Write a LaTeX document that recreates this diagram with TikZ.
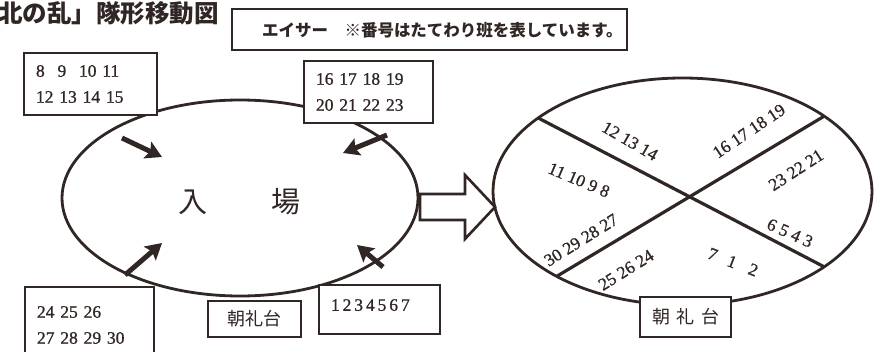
\documentclass[tikz,border=0pt]{standalone}
\usepackage{fontspec}
\usepackage{tikz}
\usetikzlibrary{positioning,arrows.meta,shapes}
\setmainfont{Liberation Serif}
\newfontfamily\numfont{Liberation Serif}[FakeBold=0.9]
\newfontfamily\jpfont{Noto Sans CJK JP}
\definecolor{ink}{RGB}{48,38,36}

\begin{document}
\begin{tikzpicture}[x=1pt, y=-1pt,
        numbox/.style={draw=ink, fill=white, line width=1.2pt, rectangle, inner xsep=12pt, inner ysep=0pt, align=left, text=ink, font=\numfont\fontsize{17.5}{26}\selectfont},
        jpbox/.style={draw=ink, fill=white, line width=1.2pt, rectangle, inner sep=0pt, text=ink, font=\jpfont\fontsize{18}{20}\selectfont},
        num/.style={inner sep=0pt, text=ink, font=\numfont\fontsize{17.5}{20}\selectfont},
        field/.style={draw=ink, ellipse, line width=2.8pt, inner sep=0pt, outer sep=0pt},
        push/.style={-{Stealth[length=16pt,width=18pt,inset=3pt]}, ink, line width=5pt},
        cut/.style={ink, line width=3.2pt}]
        \useasboundingbox (0,0) rectangle (881,351);
        \clip (0,0) rectangle (881,351);

        % Title and note
        \node[anchor=east, inner sep=0pt, text=ink, font=\jpfont\fontsize{24.5}{26}\selectfont\bfseries] (title) at (219,13) {北の乱」隊形移動図};
        \node[draw=ink, line width=1.2pt, minimum width=395pt, minimum height=41pt] (notebox) at (429.5,29.5) {};
        \node[anchor=west, inner sep=0pt, text=ink, font=\jpfont\fontsize{16.5}{18}\selectfont\bfseries] (note) at (262,30.5) {エイサー　※番号はたてわり班を表しています。};

        % Entrance
        \node[field, minimum width=356pt, minimum height=196pt] (enter) at (240,198) {};
        \node[inner sep=0pt, text=ink, font=\jpfont\fontsize{29}{30}\selectfont] (iri) at (193,202) {入};
        \node[inner sep=0pt, text=ink, font=\jpfont\fontsize{29}{30}\selectfont] (ba) at (286,202) {場};

        \node[numbox, text width=109pt, minimum height=62pt] (grpA) at (90.5,84) {8\hspace{12.75pt}9\hspace{12.75pt}10 11\\12 13 14 15};
        \node[numbox, text width=105pt, minimum height=62pt] (grpB) at (368.5,92) {16 17 18 19\\20 21 22 23};
        \node[numbox, text width=105pt, minimum height=76pt] (grpC) at (89.5,325) {24 25 26\\27 28 29 30};
        \node[numbox, text width=97pt, minimum height=49pt, text depth=9pt] (grpD) at (379.5,309.5) {1\,2\,3\,4\,5\,6\,7};
        \node[jpbox, minimum width=93pt, minimum height=36pt] (dais) at (254.5,319) {朝礼台};

        % Entry arrows
        \coordinate (pA) at (122,138);
        \coordinate (qA) at (162,157);
        \coordinate (pB) at (387,135);
        \coordinate (qB) at (343,153);
        \coordinate (pC) at (125,275);
        \coordinate (qC) at (162,243);
        \coordinate (pD) at (383,267);
        \coordinate (qD) at (357,245);
        \draw[push] (pA) -- (qA);
        \draw[push] (pB) -- (qB);
        \draw[push] (pC) -- (qC);
        \draw[push] (pD) -- (qD);

        % Big hollow arrow
        \draw[ink, line width=2.6pt, fill=white, line join=miter] (420,194) -- (465,194) -- (465,175) -- (495,207) -- (465,239) -- (465,220) -- (420,220) -- cycle;

        % Formation
        \node[field, minimum width=379pt, minimum height=227pt] (stage) at (682.5,191.5) {};
        \draw[cut] (stage.153) -- (stage.-28.7);
        \draw[cut] (stage.28.7) -- (stage.214);

        \node[num, rotate=-30] (n1) at (630,141) {12 13 14};
        \node[num, rotate=34] (n2) at (749,131) {16 17 18 19};
        \node[num, rotate=-23] (n3) at (579,180) {11 10 9 8};
        \node[num, rotate=33] (n4) at (796,170) {23 22 21};
        \node[num, rotate=32] (n5) at (581,240) {30 29 28 27};
        \node[num, rotate=-24] (n6) at (790,233) {6 5 4 3};
        \node[num, rotate=32] (n7) at (626,270) {25 26 24};
        \node[num, rotate=-21] (n8) at (733,262) {7\hspace{12pt}1\hspace{14pt}2};

        \node[jpbox, minimum width=91pt, minimum height=40pt] (dais2) at (685.5,317) {朝\hspace{6.5pt}礼\hspace{6.5pt}台};
\end{tikzpicture}
\end{document}
